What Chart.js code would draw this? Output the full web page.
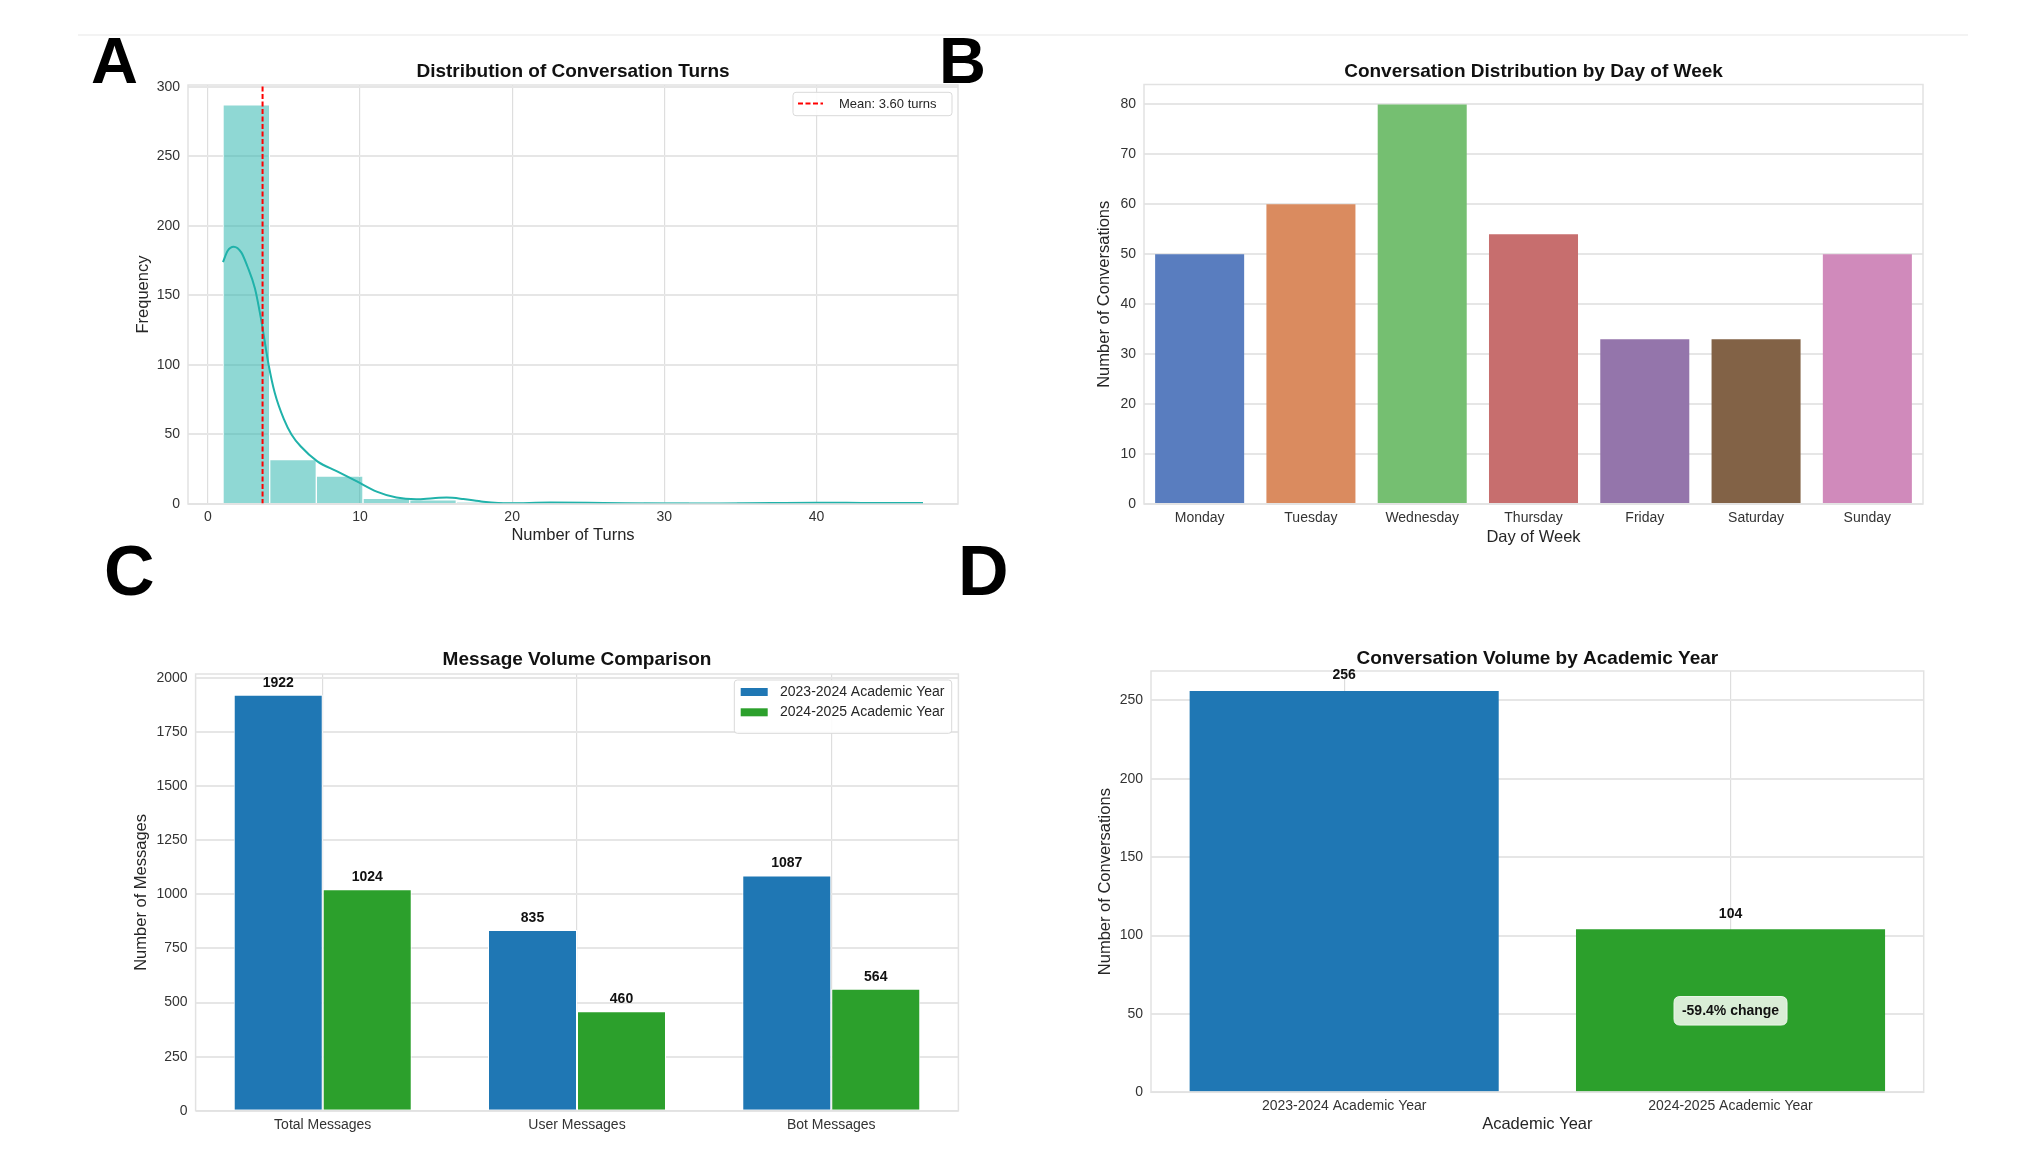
<!DOCTYPE html>
<html><head><meta charset="utf-8">
<script src="https://cdn.jsdelivr.net/npm/chart.js@4.4.1/dist/chart.umd.min.js"></script>
<style>
html,body{margin:0;padding:0;background:#fff;}
body{width:2044px;height:1162px;position:relative;overflow:hidden;font-family:'Liberation Sans',Arial,sans-serif;}
canvas{position:absolute;}
.lbl{position:absolute;font-weight:bold;color:#000;font-family:'Liberation Sans',Arial,sans-serif;}
.topline{position:absolute;left:78px;top:34px;width:1890px;height:2px;background:#f3f3f3;}
</style></head><body>
<div class="topline"></div>
<div class="lbl" style="left:91px;top:28px;font-size:65px;line-height:65px;">A</div>
<div class="lbl" style="left:939px;top:28px;font-size:65px;line-height:65px;">B</div>
<div class="lbl" style="left:104px;top:536px;font-size:70px;line-height:70px;">C</div>
<div class="lbl" style="left:958px;top:536px;font-size:70px;line-height:70px;">D</div>
<canvas id="cA" width="860" height="500" style="left:120px;top:50px;width:860px;height:500px"></canvas>
<canvas id="cB" width="880" height="500" style="left:1080px;top:50px;width:880px;height:500px"></canvas>
<canvas id="cC" width="860" height="532" style="left:120px;top:630px;width:860px;height:532px"></canvas>
<canvas id="cD" width="880" height="532" style="left:1080px;top:630px;width:880px;height:532px"></canvas>
<script>
// ---------- DATA ----------
// Panel A: histogram of conversation turns
const turnBinEdges = [1, 4.07, 7.13, 10.2, 13.27, 16.33, 19.4, 22.47, 25.53, 28.6, 31.67, 34.73, 37.8, 40.87, 43.93, 47];
const turnCounts   = [287, 32, 20, 4, 3, 1, 1, 1, 0, 1, 0, 1, 0, 0, 1];
const kdeX = [1.0, 1.3, 1.7, 2.2, 2.6, 3.1, 3.5, 4.0, 4.4, 5.0, 5.5, 6.1, 7.2, 8.5, 9.8, 11.1, 12.4, 13.7, 14.8, 15.7, 16.8, 18.1, 19.8, 22.5, 26, 30, 33.6, 37, 40, 43, 47];
const kdeY = [174, 182, 185, 181, 171, 155, 133, 100, 80, 61, 50, 41.5, 30.7, 23.4, 16.2, 8.9, 4.6, 3.4, 4.2, 4.6, 3.6, 1.7, 0.5, 1.0, 0.7, 0.3, 0.4, 0.7, 0.9, 0.8, 0.7];
const meanTurns = 3.60;
const turnXTicks = [0, 10, 20, 30, 40];
const turnYTicks = [0, 50, 100, 150, 200, 250, 300];

// Panel B: conversations by day of week
const days = ['Monday', 'Tuesday', 'Wednesday', 'Thursday', 'Friday', 'Saturday', 'Sunday'];
const dayCounts = [50, 60, 80, 54, 33, 33, 50];
const dayYTicks = [0, 10, 20, 30, 40, 50, 60, 70, 80];

// Panel C: message volume
const msgCategories = ['Total Messages', 'User Messages', 'Bot Messages'];
const msgYear2324 = [1922, 835, 1087];
const msgYear2425 = [1024, 460, 564];
const msgSeriesNames = ['2023-2024 Academic Year', '2024-2025 Academic Year'];
const msgYTicks = [0, 250, 500, 750, 1000, 1250, 1500, 1750, 2000];

// Panel D: conversation volume by academic year
const years = ['2023-2024 Academic Year', '2024-2025 Academic Year'];
const convCounts = [256, 104];
const convYTicks = [0, 50, 100, 150, 200, 250];

// ---------- STYLE ----------
const FONT = "'Liberation Sans', Arial, sans-serif";
Chart.defaults.font.family = FONT;
Chart.defaults.color = '#333';
Chart.defaults.animation = false;

const dayColors = ['#597dbf', '#da8b5f', '#75bf71', '#c76e6e', '#9475ab', '#826246', '#d08abb'];
const BLUE = '#1f77b4', GREEN = '#2ca02c';

const framePlugin = {
  id: 'frame',
  afterDatasetsDraw(chart) {
    const {ctx, chartArea: a} = chart;
    ctx.save();
    ctx.strokeStyle = '#e2e2e2';
    ctx.lineWidth = 1.5;
    ctx.strokeRect(a.left, a.top, a.right - a.left, a.bottom - a.top);
    ctx.restore();
  }
};

function roundRect(ctx, x, y, w, h, r) {
  ctx.beginPath();
  ctx.moveTo(x + r, y);
  ctx.lineTo(x + w - r, y); ctx.quadraticCurveTo(x + w, y, x + w, y + r);
  ctx.lineTo(x + w, y + h - r); ctx.quadraticCurveTo(x + w, y + h, x + w - r, y + h);
  ctx.lineTo(x + r, y + h); ctx.quadraticCurveTo(x, y + h, x, y + h - r);
  ctx.lineTo(x, y + r); ctx.quadraticCurveTo(x, y, x + r, y);
  ctx.closePath();
}

function valueLabels(offset, size) {
  return {
    id: 'valueLabels',
    afterDatasetsDraw(chart) {
      const ctx = chart.ctx;
      ctx.save();
      ctx.font = `bold ${size}px ${FONT}`;
      ctx.fillStyle = '#111';
      ctx.textAlign = 'center';
      ctx.textBaseline = 'middle';
      chart.data.datasets.forEach((ds, di) => {
        chart.getDatasetMeta(di).data.forEach((el, i) => {
          ctx.fillText(String(ds.data[i]), el.x, el.y - offset);
        });
      });
      ctx.restore();
    }
  };
}

function yAxis(opts) {
  return {
    type: 'linear', min: opts.min, max: opts.max,
    afterBuildTicks: s => { s.ticks = opts.ticks.map(v => ({value: v})); },
    afterFit: s => { s.width = opts.width; },
    ticks: {font: {size: 14}, color: '#333', padding: 8, callback: v => String(v)},
    grid: {color: '#e6e6e6', lineWidth: 2, drawTicks: false},
    border: {display: false},
    title: {display: true, text: opts.title, font: {size: 16.5}, color: '#262626', padding: {top: opts.titlePad, bottom: 0}}
  };
}

function chartTitle(text, top, bottom) {
  return {display: true, text, fullSize: false, color: '#111',
          font: {size: 19, weight: 'bold'}, padding: {top, bottom}};
}

// ---------- PANEL A ----------
const binCenters = turnCounts.map((c, i) => (turnBinEdges[i] + turnBinEdges[i + 1]) / 2);
const turnYMax = 301.35;
new Chart(document.getElementById('cA'), {
  type: 'bar',
  data: {
    datasets: [
      {type: 'line', label: 'Mean', data: [{x: meanTurns, y: 0}, {x: meanTurns, y: turnYMax}],
       borderColor: '#ff0000', borderWidth: 2, borderDash: [5, 2.5], pointRadius: 0, order: 1},
      {type: 'line', label: 'KDE', data: kdeX.map((x, i) => ({x, y: kdeY[i]})),
       borderColor: '#20b2aa', borderWidth: 2, pointRadius: 0, cubicInterpolationMode: 'monotone', order: 2},
      {type: 'bar', label: 'Turns', data: binCenters.map((x, i) => ({x, y: turnCounts[i]})),
       backgroundColor: 'rgba(32,178,170,0.5)', borderColor: '#ffffff', borderWidth: 1,
       barPercentage: 1, categoryPercentage: 1, order: 3}
    ]
  },
  options: {
    responsive: false, animation: false,
    layout: {padding: {top: 0, right: 22, bottom: 0, left: 0}},
    scales: {
      x: {type: 'linear', min: -1.3, max: 49.3, offset: false,
          afterBuildTicks: s => { s.ticks = turnXTicks.map(v => ({value: v})); },
          afterFit: s => { s.height = 46; },
          ticks: {font: {size: 14}, color: '#333', padding: 5, callback: v => String(v)},
          grid: {color: '#dedede', lineWidth: 1.2, drawTicks: false, offset: false},
          border: {display: false},
          title: {display: true, text: 'Number of Turns', font: {size: 16.5}, color: '#262626', padding: {top: 0, bottom: 5.1}}},
      y: yAxis({min: 0, max: turnYMax, ticks: turnYTicks, width: 68, title: 'Frequency', titlePad: 13.5})
    },
    plugins: {
      legend: {display: false}, tooltip: {enabled: false},
      title: chartTitle('Distribution of Conversation Turns', 10.1, 2.1)
    }
  },
  plugins: [framePlugin, {
    id: 'legendA',
    afterDraw(chart) {
      const {ctx, chartArea: a} = chart;
      const bw = 159, bh = 23.4, bx = a.right - 6 - bw, by = a.top + 7.3;
      ctx.save();
      roundRect(ctx, bx, by, bw, bh, 3);
      ctx.fillStyle = 'rgba(255,255,255,0.9)'; ctx.fill();
      ctx.strokeStyle = '#d9d9d9'; ctx.lineWidth = 1; ctx.stroke();
      const cy = by + bh / 2;
      ctx.beginPath(); ctx.setLineDash([5, 2.5]); ctx.strokeStyle = '#ff0000'; ctx.lineWidth = 2;
      ctx.moveTo(bx + 5, cy - 0.5); ctx.lineTo(bx + 30, cy - 0.5); ctx.stroke();
      ctx.setLineDash([]);
      ctx.font = `13px ${FONT}`; ctx.fillStyle = '#262626'; ctx.textAlign = 'left'; ctx.textBaseline = 'middle';
      ctx.fillText('Mean: ' + meanTurns.toFixed(2) + ' turns', bx + 46, cy);
      ctx.restore();
    }
  }]
});

// ---------- PANEL B ----------
new Chart(document.getElementById('cB'), {
  type: 'bar',
  data: {labels: days, datasets: [{data: dayCounts, backgroundColor: dayColors, borderWidth: 0,
         barPercentage: 0.8, categoryPercentage: 1}]},
  options: {
    responsive: false, animation: false,
    layout: {padding: {top: 0, right: 37, bottom: 0, left: 0}},
    scales: {
      x: {type: 'category', offset: true,
          afterFit: s => { s.height = 46; },
          ticks: {font: {size: 14}, color: '#333', padding: 5.5},
          grid: {display: false, drawTicks: false},
          border: {display: false},
          title: {display: true, text: 'Day of Week', font: {size: 16.5}, color: '#262626', padding: {top: 0, bottom: 3.1}}},
      y: yAxis({min: 0, max: 84, ticks: dayYTicks, width: 64, title: 'Number of Conversations', titlePad: 14.9})
    },
    plugins: {
      legend: {display: false}, tooltip: {enabled: false},
      title: chartTitle('Conversation Distribution by Day of Week', 10.1, 1.6)
    }
  },
  plugins: [framePlugin]
});

// ---------- PANEL C ----------
new Chart(document.getElementById('cC'), {
  type: 'bar',
  data: {labels: msgCategories, datasets: [
    {label: msgSeriesNames[0], data: msgYear2324, backgroundColor: BLUE, borderColor: '#ffffff',
     borderWidth: {top: 1, left: 1, right: 1, bottom: 0}, barPercentage: 1, categoryPercentage: 0.7},
    {label: msgSeriesNames[1], data: msgYear2425, backgroundColor: GREEN, borderColor: '#ffffff',
     borderWidth: {top: 1, left: 1, right: 1, bottom: 0}, barPercentage: 1, categoryPercentage: 0.7}
  ]},
  options: {
    responsive: false, animation: false,
    layout: {padding: {top: 0, right: 21.6, bottom: 0, left: 0}},
    scales: {
      x: {type: 'category', offset: true,
          afterFit: s => { s.height = 51.2; },
          ticks: {font: {size: 14}, color: '#333', padding: 5.8},
          grid: {color: '#dedede', lineWidth: 1.2, drawTicks: false, offset: false},
          border: {display: false}},
      y: yAxis({min: 0, max: 2018.1, ticks: msgYTicks, width: 75.6, title: 'Number of Messages', titlePad: 11.6})
    },
    plugins: {
      legend: {display: false}, tooltip: {enabled: false},
      title: chartTitle('Message Volume Comparison', 18.6, 2.6)
    }
  },
  plugins: [framePlugin, valueLabels(12, 14), {
    id: 'legendC',
    afterDraw(chart) {
      const {ctx, chartArea: a} = chart;
      const bw = 217.4, bh = 53.3, bx = a.right - 6.7 - bw, by = a.top + 6;
      ctx.save();
      roundRect(ctx, bx, by, bw, bh, 3);
      ctx.fillStyle = 'rgba(255,255,255,0.9)'; ctx.fill();
      ctx.strokeStyle = '#d9d9d9'; ctx.lineWidth = 1; ctx.stroke();
      const rows = [by + 12, by + 32.3];
      const cols = [BLUE, GREEN];
      ctx.font = `14px ${FONT}`; ctx.textAlign = 'left'; ctx.textBaseline = 'middle';
      rows.forEach((ry, i) => {
        ctx.fillStyle = cols[i];
        ctx.fillRect(bx + 6.4, ry - 4, 27, 8);
        ctx.fillStyle = '#262626';
        ctx.fillText(msgSeriesNames[i], bx + 45.7, ry);
      });
      ctx.restore();
    }
  }]
});

// ---------- PANEL D ----------
new Chart(document.getElementById('cD'), {
  type: 'bar',
  data: {labels: years, datasets: [{data: convCounts, backgroundColor: [BLUE, GREEN], borderWidth: 0,
         barPercentage: 0.8, categoryPercentage: 1}]},
  options: {
    responsive: false, animation: false,
    layout: {padding: {top: 0, right: 36.3, bottom: 0, left: 0}},
    scales: {
      x: {type: 'category', offset: true,
          afterFit: s => { s.height = 69.7; },
          ticks: {font: {size: 14}, color: '#333', padding: 5.7},
          grid: {color: '#dedede', lineWidth: 1.2, drawTicks: false, offset: false},
          border: {display: false},
          title: {display: true, text: 'Academic Year', font: {size: 16.5}, color: '#262626', padding: {top: 0, bottom: 27.2}}},
      y: yAxis({min: 0, max: 268.8, ticks: convYTicks, width: 71, title: 'Number of Conversations', titlePad: 15.1})
    },
    plugins: {
      legend: {display: false}, tooltip: {enabled: false},
      title: chartTitle('Conversation Volume by Academic Year', 17.4, 0.8)
    }
  },
  plugins: [framePlugin, valueLabels(15.5, 14), {
    id: 'changeNote',
    afterDraw(chart) {
      const ctx = chart.ctx;
      const el = chart.getDatasetMeta(0).data[1];
      const cx = el.x, cy = chart.scales.y.getPixelForValue(convCounts[1] / 2);
      const pct = (convCounts[1] - convCounts[0]) / convCounts[0] * 100;
      const w = 113, h = 28.5;
      ctx.save();
      roundRect(ctx, cx - w / 2, cy - h / 2, w, h, 6);
      ctx.fillStyle = '#d9edd6'; ctx.fill();
      ctx.strokeStyle = '#eef7ec'; ctx.lineWidth = 1; ctx.stroke();
      ctx.font = `bold 14px ${FONT}`; ctx.fillStyle = '#111'; ctx.textAlign = 'center'; ctx.textBaseline = 'middle';
      ctx.fillText(pct.toFixed(1) + '% change', cx, cy);
      ctx.restore();
    }
  }]
});
</script>
</body></html>
